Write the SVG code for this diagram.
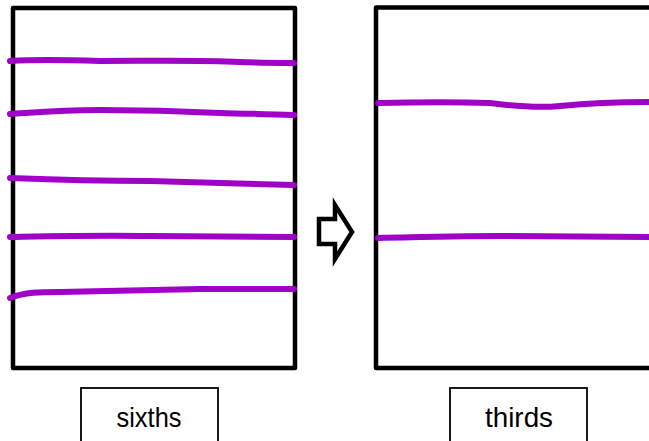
<svg xmlns="http://www.w3.org/2000/svg" width="649" height="441" viewBox="0 0 649 441">
<style>
.frame{fill:none;stroke:#000;stroke-width:4.5;stroke-linejoin:round}
.cut{fill:none;stroke:#A000C8;stroke-width:6;stroke-linecap:round;stroke-linejoin:round}
.lbl{fill:#fff;stroke:#000;stroke-width:1.8}
.txt{font-family:"Liberation Sans",Arial,sans-serif;font-size:28px;fill:#000;text-anchor:middle}
</style>
<rect width="649" height="441" fill="#fff"/>
<g id="sixths-whole">
<rect class="frame" x="13" y="8" width="282" height="360"/>
</g>
<g id="thirds-whole">
<path class="frame" d="M660,7.5 H376 V368 H660"/>
</g>
<g id="connectors">
<g id="sixths-cuts">
<path class="cut" d="M10,61 C40,59 70,60 100,61 C150,61 200,60 240,62 C260,63 280,63 294,63"/>
<path class="cut" d="M10,114 C40,112 60,110 100,110 C150,110 180,111 220,113 C250,114 280,114 294,115"/>
<path class="cut" d="M10,178 C60,180 100,181 150,181 C200,182 250,184 294,185"/>
<path class="cut" d="M10,237 C60,236 100,235 150,236 C200,236 250,237 294,237"/>
<path class="cut" d="M10,298 C25,292 40,292 60,292 C100,291 150,290 200,289 C240,289 270,289 294,289"/>
</g>
<g id="thirds-cuts">
<path class="cut" d="M378,103 C420,102 460,102 490,103 C520,107 540,108 560,106 C600,102 630,102 649,102"/>
<path class="cut" d="M378,238 C420,237 460,236 500,236 C560,236 610,237 649,237"/>
</g>
<g id="arrow">
<path d="M319,219 H335 V205 L352,232 L335,259 V244 H319 Z" fill="#fff" stroke="#000" stroke-width="4.5" stroke-linejoin="miter"/>
</g>
</g>
<g id="label-sixths">
<rect class="lbl" x="81" y="388" width="137" height="60"/>
<text class="txt" x="149" y="427" textLength="65" lengthAdjust="spacingAndGlyphs">sixths</text>
</g>
<g id="label-thirds">
<rect class="lbl" x="450" y="388" width="137" height="60"/>
<text class="txt" x="519" y="427" textLength="68" lengthAdjust="spacingAndGlyphs">thirds</text>
</g>
</svg>
